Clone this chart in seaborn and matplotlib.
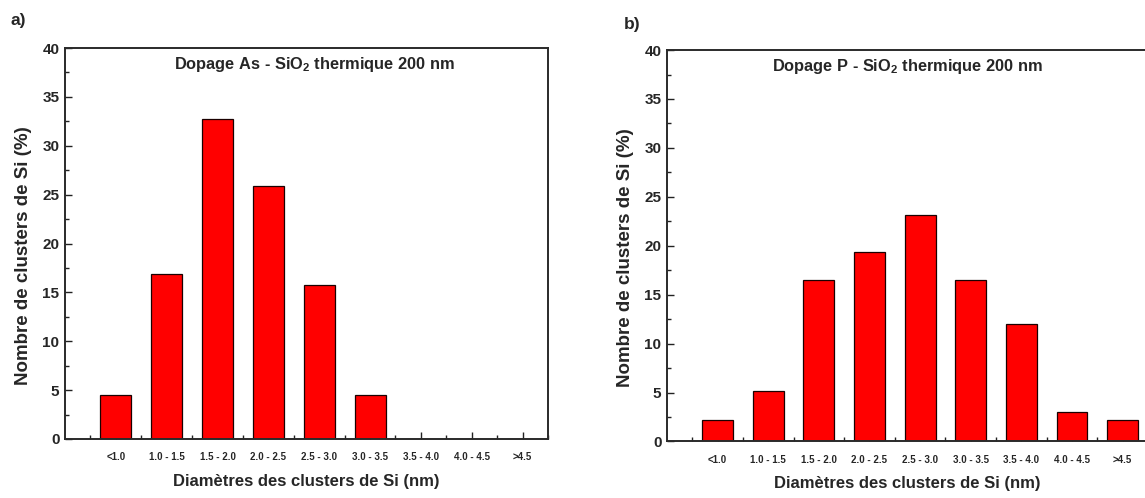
import numpy as np
import pandas as pd
import matplotlib
matplotlib.use("Agg")
import matplotlib.pyplot as plt
import seaborn as sns
from matplotlib.ticker import MultipleLocator, FixedLocator

# classes de diametre (nm)
categories = ["<1.0", "1.0 - 1.5", "1.5 - 2.0", "2.0 - 2.5", "2.5 - 3.0",
              "3.0 - 3.5", "3.5 - 4.0", "4.0 - 4.5", ">4.5"]
tick_labels = ["<1.0", "1.0 - 1.5", "1.5 - 2.0", "2.0 - 2.5", "2.5 - 3.0",
               "3.0 - 3.5", "3.5 - 4.0", "4.0 - 4.5", ">4.5"]

# pourcentages
vals_as = [4.5, 16.9, 32.7, 25.9, 15.8, 4.5, 0, 0, 0]
vals_p = [2.2, 5.2, 16.5, 19.4, 23.1, 16.5, 12.0, 3.0, 2.2]

titles = ["Dopage As - SiO$_\\mathregular{2}$ thermique 200 nm",
          "Dopage P - SiO$_\\mathregular{2}$ thermique 200 nm"]
panel_tags = ["a)", "b)"]

sns.set_style("ticks")
plt.rcParams['font.family'] = ['Liberation Sans', 'DejaVu Sans']
plt.rcParams['font.weight'] = 'bold'
plt.rcParams['mathtext.fontset'] = 'custom'
plt.rcParams['mathtext.rm'] = 'Liberation Sans:bold'
plt.rcParams['mathtext.it'] = 'Liberation Sans:bold'

fig = plt.figure(figsize=(11.45, 4.98), dpi=100)
ax1 = fig.add_axes([0.0568, 0.1185, 0.4218, 0.785])
ax2 = fig.add_axes([0.5825, 0.1135, 0.4201, 0.786])

# (axe, valeurs, x du titre)
panels = [(ax1, vals_as, 3.9), (ax2, vals_p, 3.76)]

for k, (ax, vals, tx) in enumerate(panels):
    df = pd.DataFrame({"classe": categories, "pct": vals})
    sns.barplot(data=df, x="classe", y="pct", ax=ax, color="#ff0000",
                saturation=1, width=0.61, edgecolor="#1a0000", linewidth=0.9)
    ax.set_xlim(-1, 8.5)
    ax.set_ylim(0, 40)
    ax.yaxis.set_major_locator(MultipleLocator(5))
    ax.yaxis.set_minor_locator(MultipleLocator(2.5))
    ax.xaxis.set_major_locator(FixedLocator(np.arange(len(categories))))
    ax.xaxis.set_minor_locator(FixedLocator(np.arange(-0.5, len(categories), 1.0)))
    ax.set_xticklabels(tick_labels, fontsize=7, fontweight='bold')
    ax.tick_params(axis='both', which='major', direction='in', length=5,
                   width=1, color='#222222')
    ax.tick_params(axis='both', which='minor', direction='in', length=3,
                   width=1, color='#222222')
    ax.tick_params(axis='y', labelsize=11, pad=4)
    ax.tick_params(axis='x', pad=9.5)
    for lab in ax.get_yticklabels():
        lab.set_fontweight('bold')
    for sp in ax.spines.values():
        sp.set_visible(True)
        sp.set_linewidth(1.4)
        sp.set_color('#2a2a2a')
    ax.set_xlabel("Diamètres des clusters de Si (nm)", fontsize=12,
                  fontweight='bold', labelpad=8.5)
    ax.set_ylabel("Nombre de clusters de Si (%)", fontsize=13.5,
                  fontweight='bold')
    ax.yaxis.set_label_coords(-0.068, 0.47)
    ax.text(tx, 38.3, titles[k], ha='center', va='center', fontsize=11.8,
            fontweight='bold')

fig.text(0.016, 0.958, panel_tags[0], fontsize=12.5, fontweight='bold',
         ha='center', va='center')
fig.text(0.552, 0.95, panel_tags[1], fontsize=12.5, fontweight='bold',
         ha='center', va='center')

fig.savefig("out.png", dpi=100)
